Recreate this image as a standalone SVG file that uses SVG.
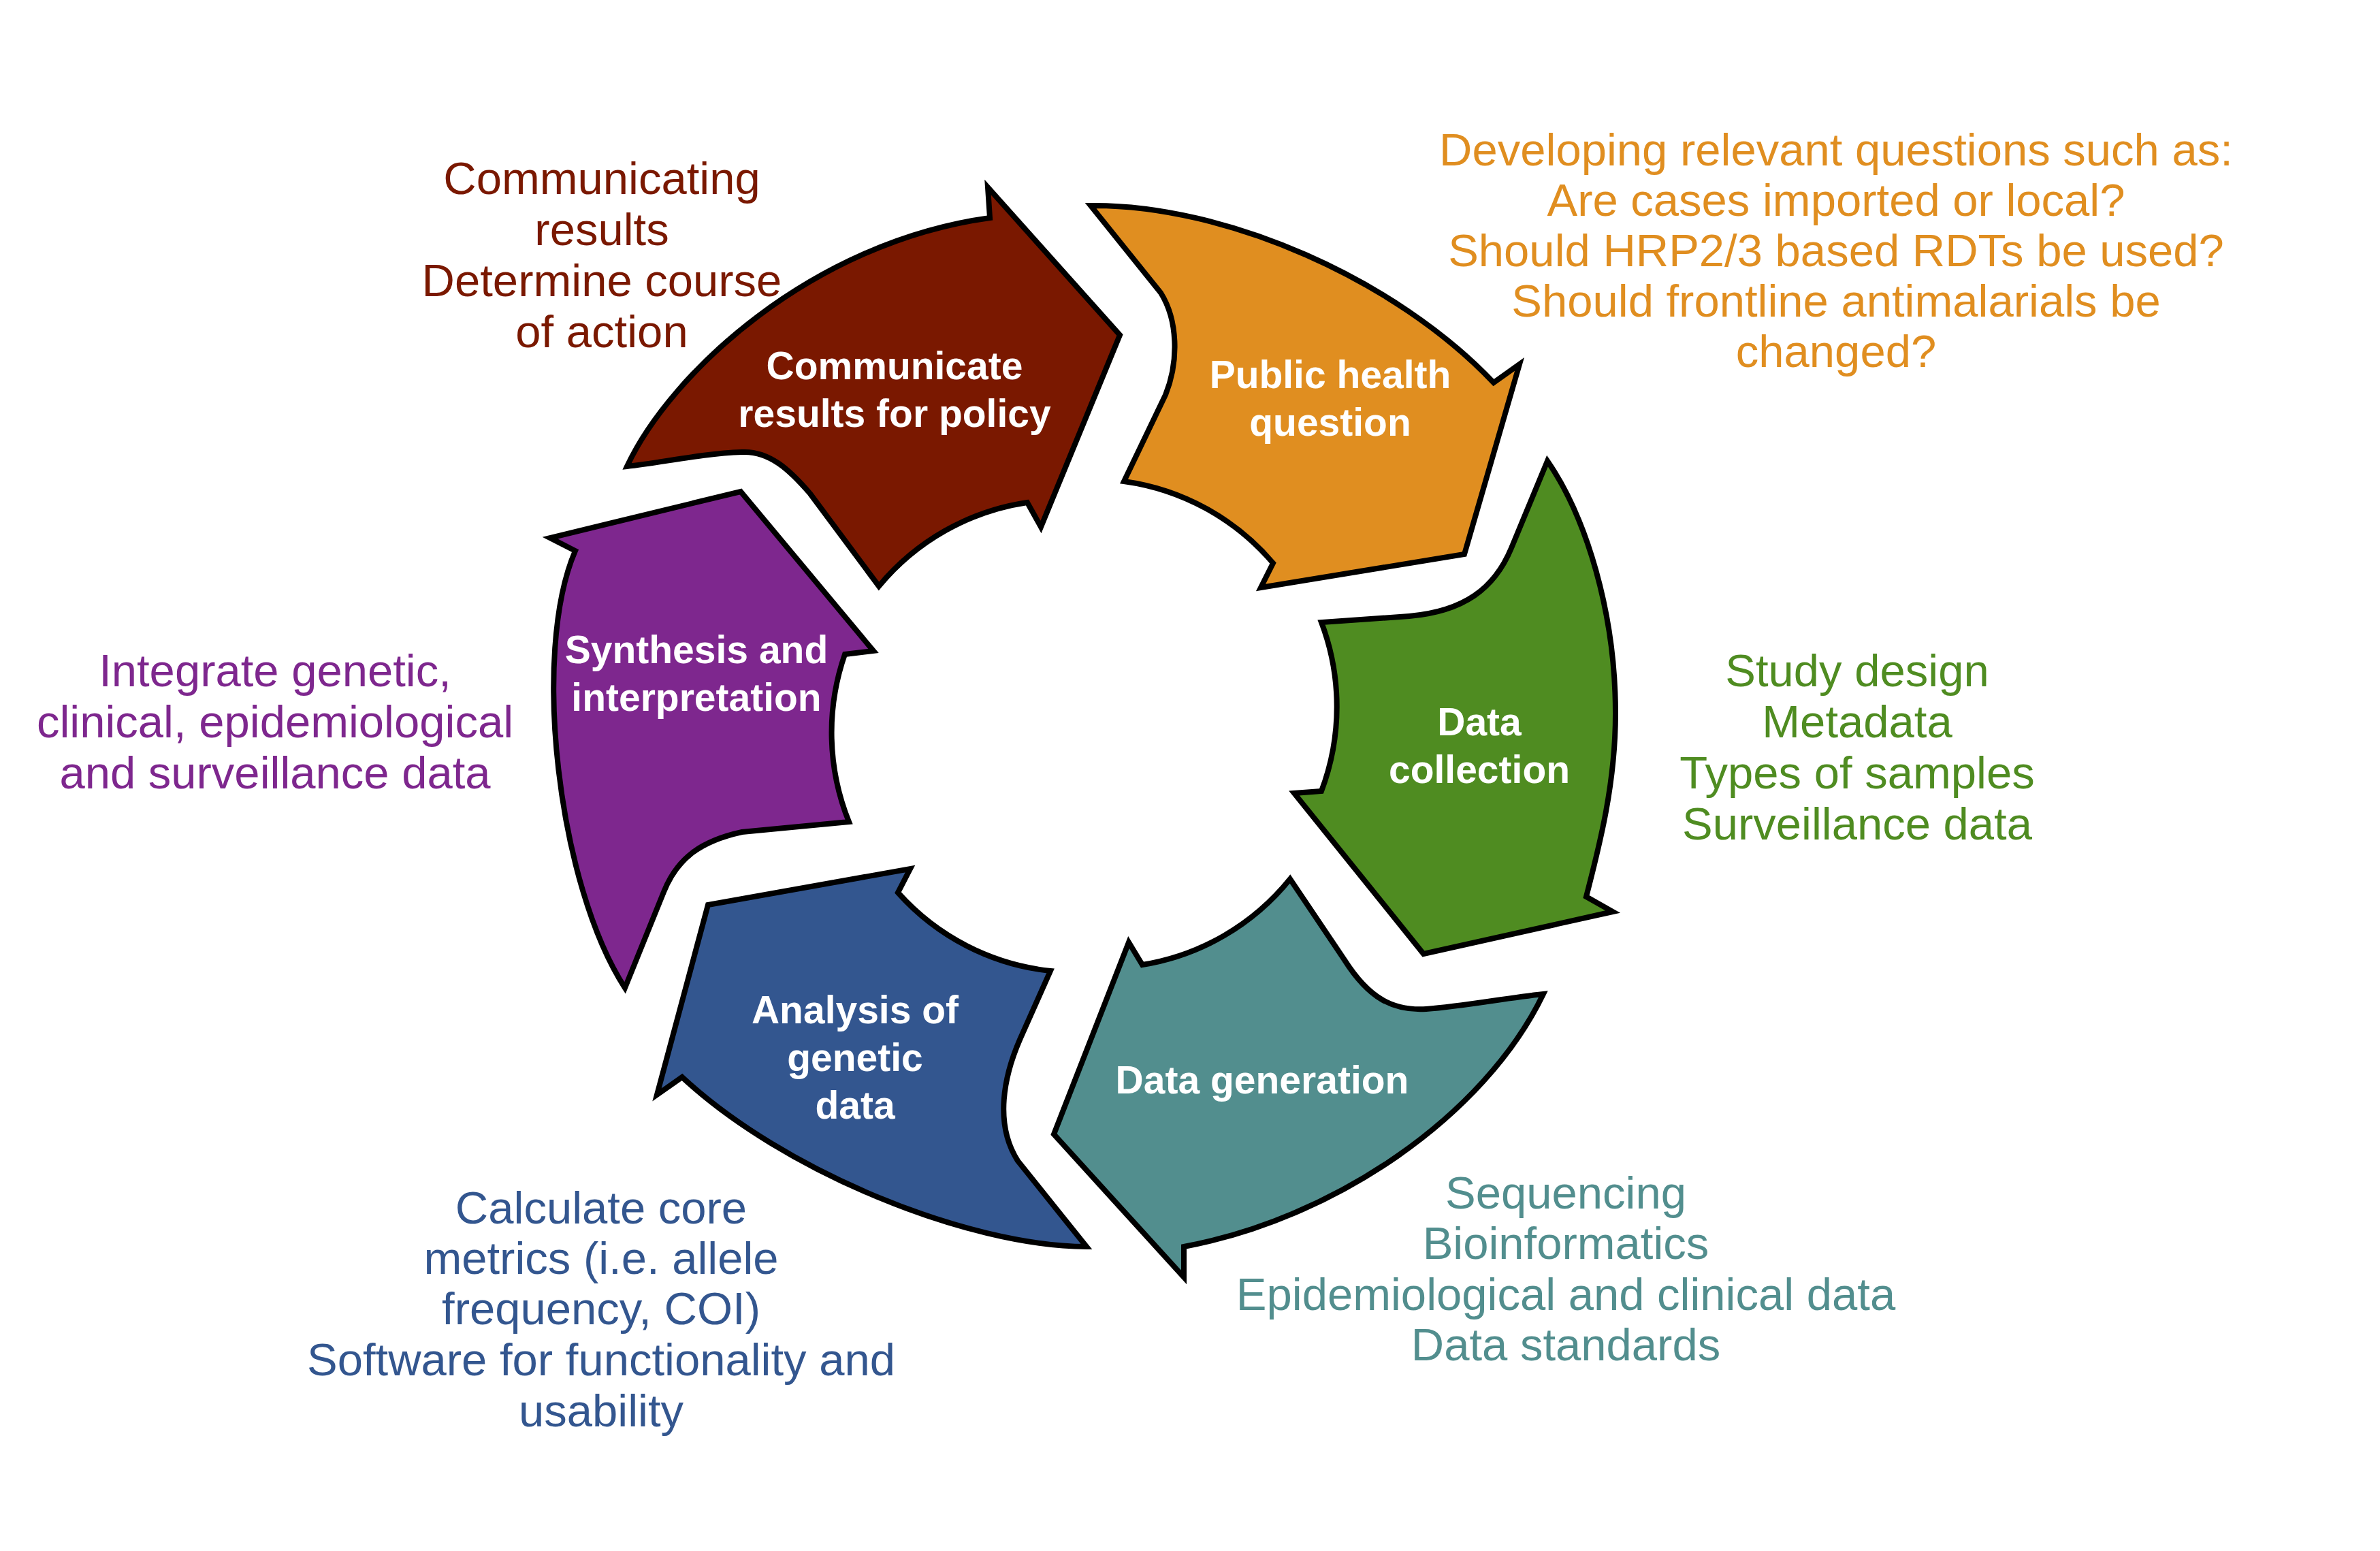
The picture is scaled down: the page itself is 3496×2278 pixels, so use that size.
<svg xmlns="http://www.w3.org/2000/svg" width="3496" height="2278" viewBox="0 0 3496 2278">
  <style>
    .stage { stroke: #000; stroke-width: 8; stroke-linejoin: miter; stroke-miterlimit: 10; }
    .label { font-family: "Liberation Sans", Arial, Helvetica, sans-serif; font-weight: bold; font-size: 57px; fill: #fff; text-anchor: middle; }
    .note { font-family: "Liberation Sans", Arial, Helvetica, sans-serif; font-size: 67px; text-anchor: middle; }
  </style>
  <rect width="3496" height="2278" fill="#fff"/>

  <g id="connectors"/>

  <!-- Stage 1: policy communication (top left) -->
  <g id="node-communicate">
    <path class="stage" fill="#7A1800" d="M921,685 C985,548 1192,356 1454,320 L1451,275 L1645,492 L1529,774 L1509,738 A350,350 0 0 0 1291,861 L1190,725 C1160,690 1130,662 1090,664 C1030,666 970,680 921,685 Z"/>
    <text class="label" x="1314" y="557">Communicate</text>
    <text class="label" x="1314" y="627">results for policy</text>
  </g>

  <!-- Stage 2: public health question (top right) -->
  <g id="node-question">
    <path class="stage" fill="#E08E20" d="M1602,302 C1800,300 2050,410 2194,562 L2232,535 L2151,814 L1852,863 L1870,827 A350,350 0 0 0 1651,707 L1712,580 C1732,530 1730,470 1705,430 L1602,302 Z"/>
    <text class="label" x="1954" y="570">Public health</text>
    <text class="label" x="1954" y="640">question</text>
  </g>

  <!-- Stage 3: data collection (right) -->
  <g id="node-collection">
    <path class="stage" fill="#4F8C21" d="M2273,677 C2330,760 2373,900 2373,1048 C2373,1150 2350,1240 2330,1317 L2369,1339 L2091,1401 L1901,1165 L1941,1162 A350,350 0 0 0 1941,914 L2070,905 C2150,898 2195,865 2220,805 L2273,677 Z"/>
    <text class="label" x="2173" y="1080">Data</text>
    <text class="label" x="2173" y="1150">collection</text>
  </g>

  <!-- Stage 4: data generation (bottom right) -->
  <g id="node-generation">
    <path class="stage" fill="#528E8E" d="M2267,1460 C2180,1640 1960,1790 1739,1831 L1739,1876 L1548,1666 L1658,1384 L1678,1417 A350,350 0 0 0 1895,1291 L1975,1410 C2010,1465 2045,1485 2095,1482 C2150,1478 2210,1466 2267,1460 Z"/>
    <text class="label" x="1854" y="1606">Data generation</text>
  </g>

  <!-- Stage 5: genetic data analysis (bottom left) -->
  <g id="node-analysis">
    <path class="stage" fill="#33568F" d="M1596,1831 C1420,1830 1150,1720 1002,1582 L965,1608 L1040,1329 L1337,1276 L1319,1311 A350,350 0 0 0 1543,1426 L1498,1527 C1475,1580 1460,1650 1495,1705 L1596,1831 Z"/>
    <text class="label" x="1256" y="1503">Analysis of</text>
    <text class="label" x="1256" y="1573">genetic</text>
    <text class="label" x="1256" y="1643">data</text>
  </g>

  <!-- Stage 6: synthesis (left) -->
  <g id="node-synthesis">
    <path class="stage" fill="#7E278E" d="M918,1451 C820,1300 780,960 845,809 L808,790 L1088,722 L1283,956 L1241,961 A350,350 0 0 0 1247,1207 L1090,1222 C1030,1235 995,1260 975,1310 L918,1451 Z"/>
    <text class="label" x="1023" y="974">Synthesis and</text>
    <text class="label" x="1023" y="1044">interpretation</text>
  </g>

  <!-- Descriptions beside each stage -->
  <g id="note-communicate" class="note" fill="#7A1800">
    <text x="884" y="285">Communicating</text>
    <text x="884" y="360">results</text>
    <text x="884" y="435">Determine course</text>
    <text x="884" y="510">of action</text>
  </g>
  <g id="note-question" class="note" fill="#E08E20">
    <text x="2697" y="243">Developing relevant questions such as:</text>
    <text x="2697" y="317">Are cases imported or local?</text>
    <text x="2697" y="391">Should HRP2/3 based RDTs be used?</text>
    <text x="2697" y="465">Should frontline antimalarials be</text>
    <text x="2697" y="539">changed?</text>
  </g>
  <g id="note-collection" class="note" fill="#4F8C21">
    <text x="2728" y="1008">Study design</text>
    <text x="2728" y="1083">Metadata</text>
    <text x="2728" y="1158">Types of samples</text>
    <text x="2728" y="1233">Surveillance data</text>
  </g>
  <g id="note-generation" class="note" fill="#528E8E">
    <text x="2300" y="1775">Sequencing</text>
    <text x="2300" y="1849">Bioinformatics</text>
    <text x="2300" y="1924">Epidemiological and clinical data</text>
    <text x="2300" y="1998">Data standards</text>
  </g>
  <g id="note-analysis" class="note" fill="#33568F">
    <text x="883" y="1797">Calculate core</text>
    <text x="883" y="1871">metrics (i.e. allele</text>
    <text x="883" y="1945">frequency, COI)</text>
    <text x="883" y="2020">Software for functionality and</text>
    <text x="883" y="2095">usability</text>
  </g>
  <g id="note-synthesis" class="note" fill="#7E278E">
    <text x="404" y="1008">Integrate genetic,</text>
    <text x="404" y="1083">clinical, epidemiological</text>
    <text x="404" y="1158">and surveillance data</text>
  </g>
</svg>
